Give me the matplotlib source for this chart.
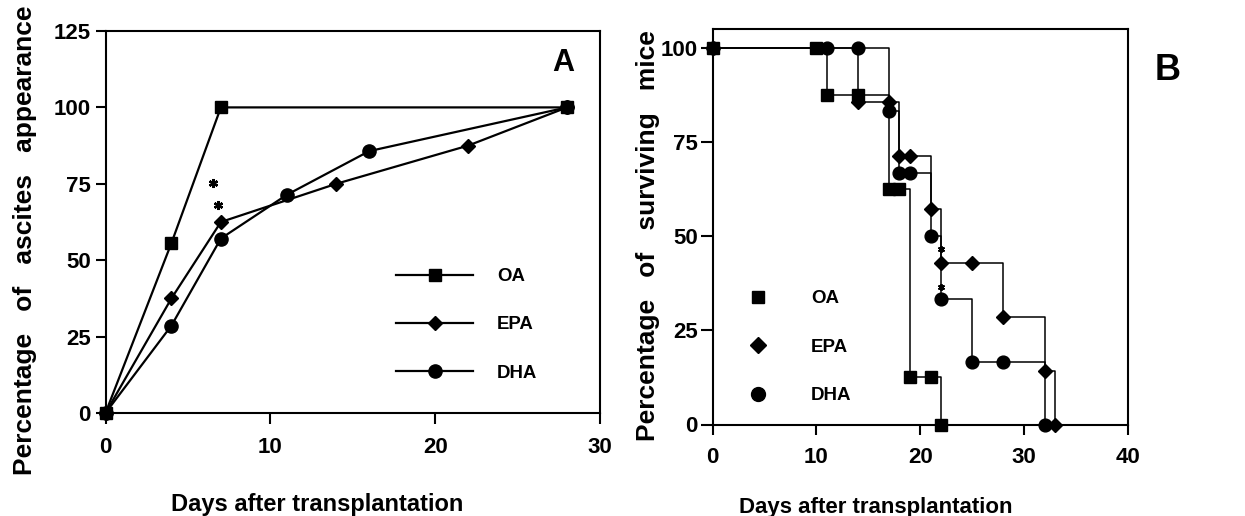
import matplotlib.pyplot as plt
from matplotlib.lines import Line2D

plt.rcParams['font.family'] = ['Liberation Sans', 'DejaVu Sans']
plt.rcParams['font.weight'] = 'bold'

groups = ['OA', 'EPA', 'DHA']

# A: percentage of ascites appearance
a_days_oa = [0, 4, 7, 28]
a_oa = [0, 55.6, 100, 100]
a_days_epa = [0, 4, 7, 14, 22, 28]
a_epa = [0, 37.5, 62.5, 75, 87.5, 100]
a_days_dha = [0, 4, 7, 11, 16, 28]
a_dha = [0, 28.6, 57.1, 71.4, 85.7, 100]
a_star_x = [6.55, 6.8]
a_star_y = [75.3, 68]

# B: percentage of surviving mice
b_days_oa = [0, 10, 11, 14, 17, 18, 19, 21, 22]
b_oa = [100, 100, 87.5, 87.5, 62.5, 62.5, 12.5, 12.5, 0]
b_days_epa = [0, 14, 17, 18, 19, 21, 22, 25, 28, 32, 33]
b_epa = [100, 85.7, 85.7, 71.4, 71.4, 57.1, 42.9, 42.9, 28.6, 14.3, 0]
b_days_dha = [0, 11, 14, 17, 18, 19, 21, 22, 25, 28, 32]
b_dha = [100, 100, 100, 83.3, 66.7, 66.7, 50, 33.3, 16.7, 16.7, 0]
b_star_x = [22, 22]
b_star_y = [46.7, 36.6]

markers = {'OA': 's', 'EPA': 'D', 'DHA': 'o'}
msize = {'OA': 8.5, 'EPA': 7.6, 'DHA': 9.5}

fig = plt.figure(figsize=(12.45, 5.16), dpi=100)

# ---------------- panel A
axA = fig.add_axes([105.5 / 1245, 1 - 413 / 516, 494.5 / 1245, 382 / 516])
a_data = {'OA': (a_days_oa, a_oa), 'EPA': (a_days_epa, a_epa), 'DHA': (a_days_dha, a_dha)}
for z, g in zip([5, 3, 4], groups):
    x, y = a_data[g]
    axA.plot(x, y, color='black', lw=1.6, marker=markers[g], ms=msize[g],
             label=g, clip_on=False, zorder=z)
axA.plot(a_star_x, a_star_y, ls='none', marker=(6, 2, 0), ms=6.5, mew=1.7, color='black')
axA.set_xlim(0, 30)
axA.set_ylim(0, 125)
axA.set_xticks([0, 10, 20, 30])
axA.set_yticks([0, 25, 50, 75, 100, 125])
axA.tick_params(axis='both', direction='out', width=1.5, labelsize=16)
axA.tick_params(axis='y', length=7, pad=3.5)
axA.tick_params(axis='x', length=8, pad=9)
for s in axA.spines.values():
    s.set_linewidth(1.5)
axA.text(563 / 1245, 1 - 63 / 516, 'A', transform=fig.transFigure, fontsize=22,
         ha='center', va='center')
axA.legend(loc='upper left', bbox_to_anchor=(396 / 1245, 1 - 268 / 516),
           bbox_transform=fig.transFigure, frameon=False, fontsize=13.4,
           handlelength=4.14, handletextpad=1.29, labelspacing=1.68,
           borderpad=0, borderaxespad=0)
fig.text(317 / 1245, 1 - 511 / 516, 'Days after transplantation', ha='center',
         va='baseline', fontsize=17)
fig.text(32 / 1245, 1 - 240 / 516, 'Percentage   of   ascites   appearance',
         rotation=90, rotation_mode='anchor', ha='center', va='baseline', fontsize=19)

# ---------------- panel B
axB = fig.add_axes([712.5 / 1245, 1 - 424.5 / 516, 415.5 / 1245, 395.5 / 516])
b_data = {'OA': (b_days_oa, b_oa), 'EPA': (b_days_epa, b_epa), 'DHA': (b_days_dha, b_dha)}
for z, g in zip([5, 3, 4], groups):
    x, y = b_data[g]
    axB.plot(x, y, color='black', lw=1.1, drawstyle='steps-post', clip_on=False, zorder=2)
    axB.plot(x, y, ls='none', color='black', marker=markers[g],
             ms=msize[g] - 0.3, clip_on=False, zorder=z)
axB.plot(b_star_x, b_star_y, ls='none', marker=(6, 2, 0), ms=5, mew=1.3, color='black')
axB.set_xlim(0, 40)
axB.set_ylim(0, 105)
axB.set_xticks([0, 10, 20, 30, 40])
axB.set_yticks([0, 25, 50, 75, 100])
axB.tick_params(axis='both', direction='out', width=1.5, labelsize=16)
axB.tick_params(axis='y', length=8.5, pad=2)
axB.tick_params(axis='x', length=7, pad=9)
for s in axB.spines.values():
    s.set_linewidth(1.5)
axB.text(1168 / 1245, 1 - 71 / 516, 'B', transform=fig.transFigure, fontsize=26,
         ha='center', va='center')
handles = [Line2D([], [], ls='none', color='black', marker=markers[g], ms=msize[g] + 0.5)
           for g in groups]
axB.legend(handles, groups, loc='upper left', bbox_to_anchor=(749 / 1245, 1 - 290 / 516),
           bbox_transform=fig.transFigure, frameon=False, fontsize=13.5,
           handlelength=1.0, handletextpad=2.3, labelspacing=1.68,
           borderpad=0, borderaxespad=0)
fig.text(876 / 1245, 1 - 513 / 516, 'Days after transplantation', ha='center',
         va='baseline', fontsize=16)
fig.text(655 / 1245, 1 - 236 / 516, 'Percentage   of   surviving   mice',
         rotation=90, rotation_mode='anchor', ha='center', va='baseline', fontsize=19)

fig.savefig('out.png', dpi=100)
